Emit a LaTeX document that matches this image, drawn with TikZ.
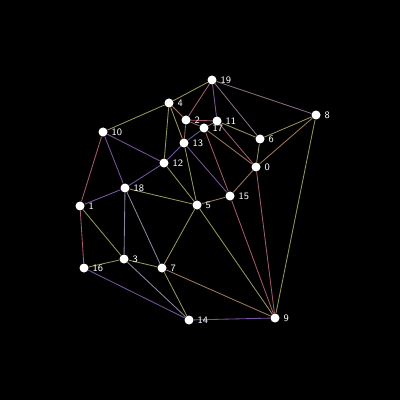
\documentclass[tikz,border=0pt]{standalone}
\usetikzlibrary{backgrounds}

\definecolor{olivel}{RGB}{150,150,90}
\definecolor{rosel}{RGB}{165,90,110}
\definecolor{purpl}{RGB}{120,85,160}
\definecolor{tanl}{RGB}{160,120,92}
\definecolor{grayl}{RGB}{135,135,160}

\tikzset{
  pt/.style={circle, fill=white, inner sep=0pt, minimum size=0.225cm,
    label distance=0pt},
  lbl/.style={text=white, font=\sffamily\fontsize{7}{8}\selectfont, inner sep=2.5pt},
  edge/.style={line width=0.6pt}
}

\begin{document}
\begin{tikzpicture}[x=0.025cm,y=-0.025cm]
\useasboundingbox (0,0) rectangle (400,400);

% the points
\node[pt,label={[lbl]right:0}] (p0) at (256,167) {};
\node[pt,label={[lbl]right:1}] (p1) at (80,206) {};
\node[pt,label={[lbl]right:2}] (p2) at (186,120) {};
\node[pt,label={[lbl]right:3}] (p3) at (124,259) {};
\node[pt,label={[lbl]right:4}] (p4) at (169,103) {};
\node[pt,label={[lbl]right:5}] (p5) at (197,205) {};
\node[pt,label={[lbl]right:6}] (p6) at (260,139) {};
\node[pt,label={[lbl]right:7}] (p7) at (162,268) {};
\node[pt,label={[lbl]right:8}] (p8) at (316,115) {};
\node[pt,label={[lbl]right:9}] (p9) at (275,318) {};
\node[pt,label={[lbl]right:10}] (p10) at (103,132) {};
\node[pt,label={[lbl]right:11}] (p11) at (217,121) {};
\node[pt,label={[lbl]right:12}] (p12) at (164,163) {};
\node[pt,label={[lbl]right:13}] (p13) at (184,143) {};
\node[pt,label={[lbl]right:14}] (p14) at (189,320) {};
\node[pt,label={[lbl]right:15}] (p15) at (230,196) {};
\node[pt,label={[lbl]right:16}] (p16) at (84,268) {};
\node[pt,label={[lbl]right:17}] (p17) at (204,128) {};
\node[pt,label={[lbl]right:18}] (p18) at (125,188) {};
\node[pt,label={[lbl]right:19}] (p19) at (212,80) {};

% black canvas and the triangle edges behind the points
\begin{scope}[on background layer]
\fill[black] (0,0) rectangle (400,400);
\draw[edge,olivel] (p19) -- (p4) (p4) -- (p10) (p4) -- (p13) (p4) -- (p12)
  (p13) -- (p5) (p12) -- (p5) (p1) -- (p3) (p3) -- (p16) (p3) -- (p7)
  (p7) -- (p5) (p7) -- (p14) (p0) -- (p6) (p6) -- (p8) (p8) -- (p9)
  (p11) -- (p6) (p18) -- (p5) (p5) -- (p9);
\draw[edge,rosel] (p19) -- (p2) (p2) -- (p11) (p2) -- (p17) (p2) -- (p13)
  (p11) -- (p17) (p11) -- (p0) (p17) -- (p15) (p10) -- (p1)
  (p15) -- (p9) (p0) -- (p9) (p1) -- (p16);
\draw[edge,purpl] (p19) -- (p11) (p17) -- (p13) (p13) -- (p12) (p13) -- (p15)
  (p10) -- (p12) (p10) -- (p18) (p12) -- (p18) (p18) -- (p1)
  (p16) -- (p14) (p14) -- (p9);
\draw[edge,tanl] (p4) -- (p2) (p17) -- (p0) (p7) -- (p9) (p5) -- (p15)
  (p15) -- (p0) (p0) -- (p8);
\draw[edge,grayl] (p18) -- (p3) (p18) -- (p7) (p3) -- (p14);
\draw[edge,purpl!60!olivel] (p19) -- (p6) (p19) -- (p8);
\end{scope}
\end{tikzpicture}
\end{document}
